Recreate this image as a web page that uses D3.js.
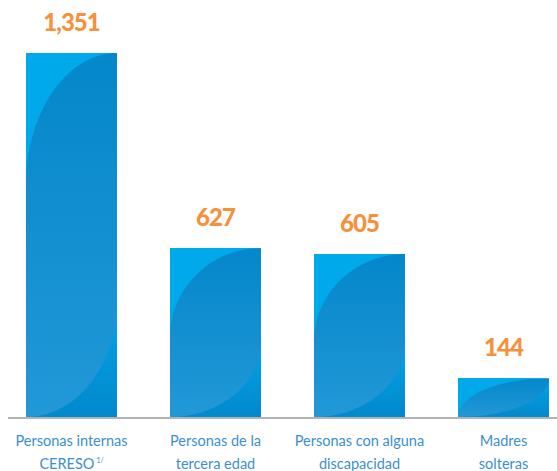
<!DOCTYPE html>
<html>
<head>
<meta charset="utf-8">
<script src="https://cdn.jsdelivr.net/npm/d3@7"></script>
<style>
  body { margin: 0; background: #fff; }
  .value-label { font-family: Lato, sans-serif; font-weight: 900; fill: #f7903a; }
  .cat-label { font-family: Lato, sans-serif; fill: #3a8fd0; }
</style>
</head>
<body>
<svg id="chart" width="557" height="471"></svg>
<script>
const categories = ["CERESO", "Tercera edad", "Discapacidad", "Madres solteras"];
const values = [1351, 627, 605, 144];
const valueText = ["1,351", "627", "605", "144"];
const catLines = [
  ["Personas internas", "CERESO"],
  ["Personas de la", "tercera edad"],
  ["Personas con alguna", "discapacidad"],
  ["Madres", "solteras"]
];

const svg = d3.select("#chart"),
  baseY = 417,
  topY = 53;

const x = d3.scaleBand()
  .domain(categories)
  .range([26, 549])
  .paddingInner(0.368)
  .paddingOuter(0);

const y = d3.scaleLinear()
  .domain([0, d3.max(values)])
  .range([baseY, topY]);

const data = categories.map((c, i) => ({ cat: c, value: values[i], text: valueText[i], lines: catLines[i] }));

const defs = svg.append("defs");
const base = defs.append("linearGradient").attr("id", "base")
  .attr("x1", 0).attr("y1", 0).attr("x2", 0).attr("y2", 1);
base.append("stop").attr("offset", "0%").attr("stop-color", "#0487cb");
base.append("stop").attr("offset", "100%").attr("stop-color", "#2298d7");

const lower = defs.append("linearGradient").attr("id", "lower")
  .attr("x1", 0).attr("y1", 0).attr("x2", 0).attr("y2", 1);
lower.append("stop").attr("offset", "0%").attr("stop-color", "#00a6e8");
lower.append("stop").attr("offset", "100%").attr("stop-color", "#0388cc");

const bars = svg.append("g")
  .selectAll("g")
  .data(data)
  .join("g");

const c = 0.552;
bars.each(function (d) {
  const g = d3.select(this);
  const w = x.bandwidth();
  const x0 = x(d.cat), x1 = x0 + w;
  const y0 = y(d.value), h = baseY - y0;
  g.append("rect")
    .attr("x", x0).attr("y", y0)
    .attr("width", w).attr("height", h)
    .attr("fill", "url(#base)");

  // light top-left sheen (quarter ellipse)
  const k = Math.min(h, 1.25 * (0.177 * h + 42));
  g.append("path")
    .attr("d", `M${x0},${y0} L${x1},${y0} C${x1 - c * w},${y0} ${x0},${y0 + k - c * k} ${x0},${y0 + k} Z`)
    .attr("fill", "#00aaea");

  // bottom-right sheen
  const m = Math.min(h, 0.2 * h + 42);
  g.append("path")
    .attr("d", `M${x1},${baseY - m} C${x1},${baseY - m + c * m} ${x0 + c * w},${baseY} ${x0},${baseY} L${x1},${baseY} Z`)
    .attr("fill", "url(#lower)");
});

// baseline
svg.append("line")
  .attr("x1", 8).attr("x2", 557)
  .attr("y1", baseY + 1).attr("y2", baseY + 1)
  .attr("stroke", "#b4b4b4")
  .attr("stroke-width", 2);

// value labels
svg.append("g")
  .selectAll("text")
  .data(data)
  .join("text")
  .attr("class", "value-label")
  .attr("x", d => x(d.cat) + x.bandwidth() / 2)
  .attr("y", d => y(d.value) - 22)
  .attr("text-anchor", "middle")
  .attr("font-size", 24)
  .attr("letter-spacing", -1)
  .text(d => d.text);

// category labels
const cats = svg.append("g")
  .selectAll("text")
  .data(data)
  .join("text")
  .attr("class", "cat-label")
  .attr("text-anchor", "middle")
  .attr("font-size", 14.5)
  .attr("x", d => x(d.cat) + x.bandwidth() / 2)
  .attr("y", 446);

cats.append("tspan").text(d => d.lines[0]);
cats.append("tspan")
  .attr("x", d => x(d.cat) + x.bandwidth() / 2)
  .attr("dy", 23)
  .text(d => d.lines[1]);
cats.filter(d => d.cat === "CERESO")
  .append("tspan")
  .attr("font-size", 7)
  .attr("dx", 2)
  .attr("dy", -6)
  .text("1/");
</script>
</body>
</html>
